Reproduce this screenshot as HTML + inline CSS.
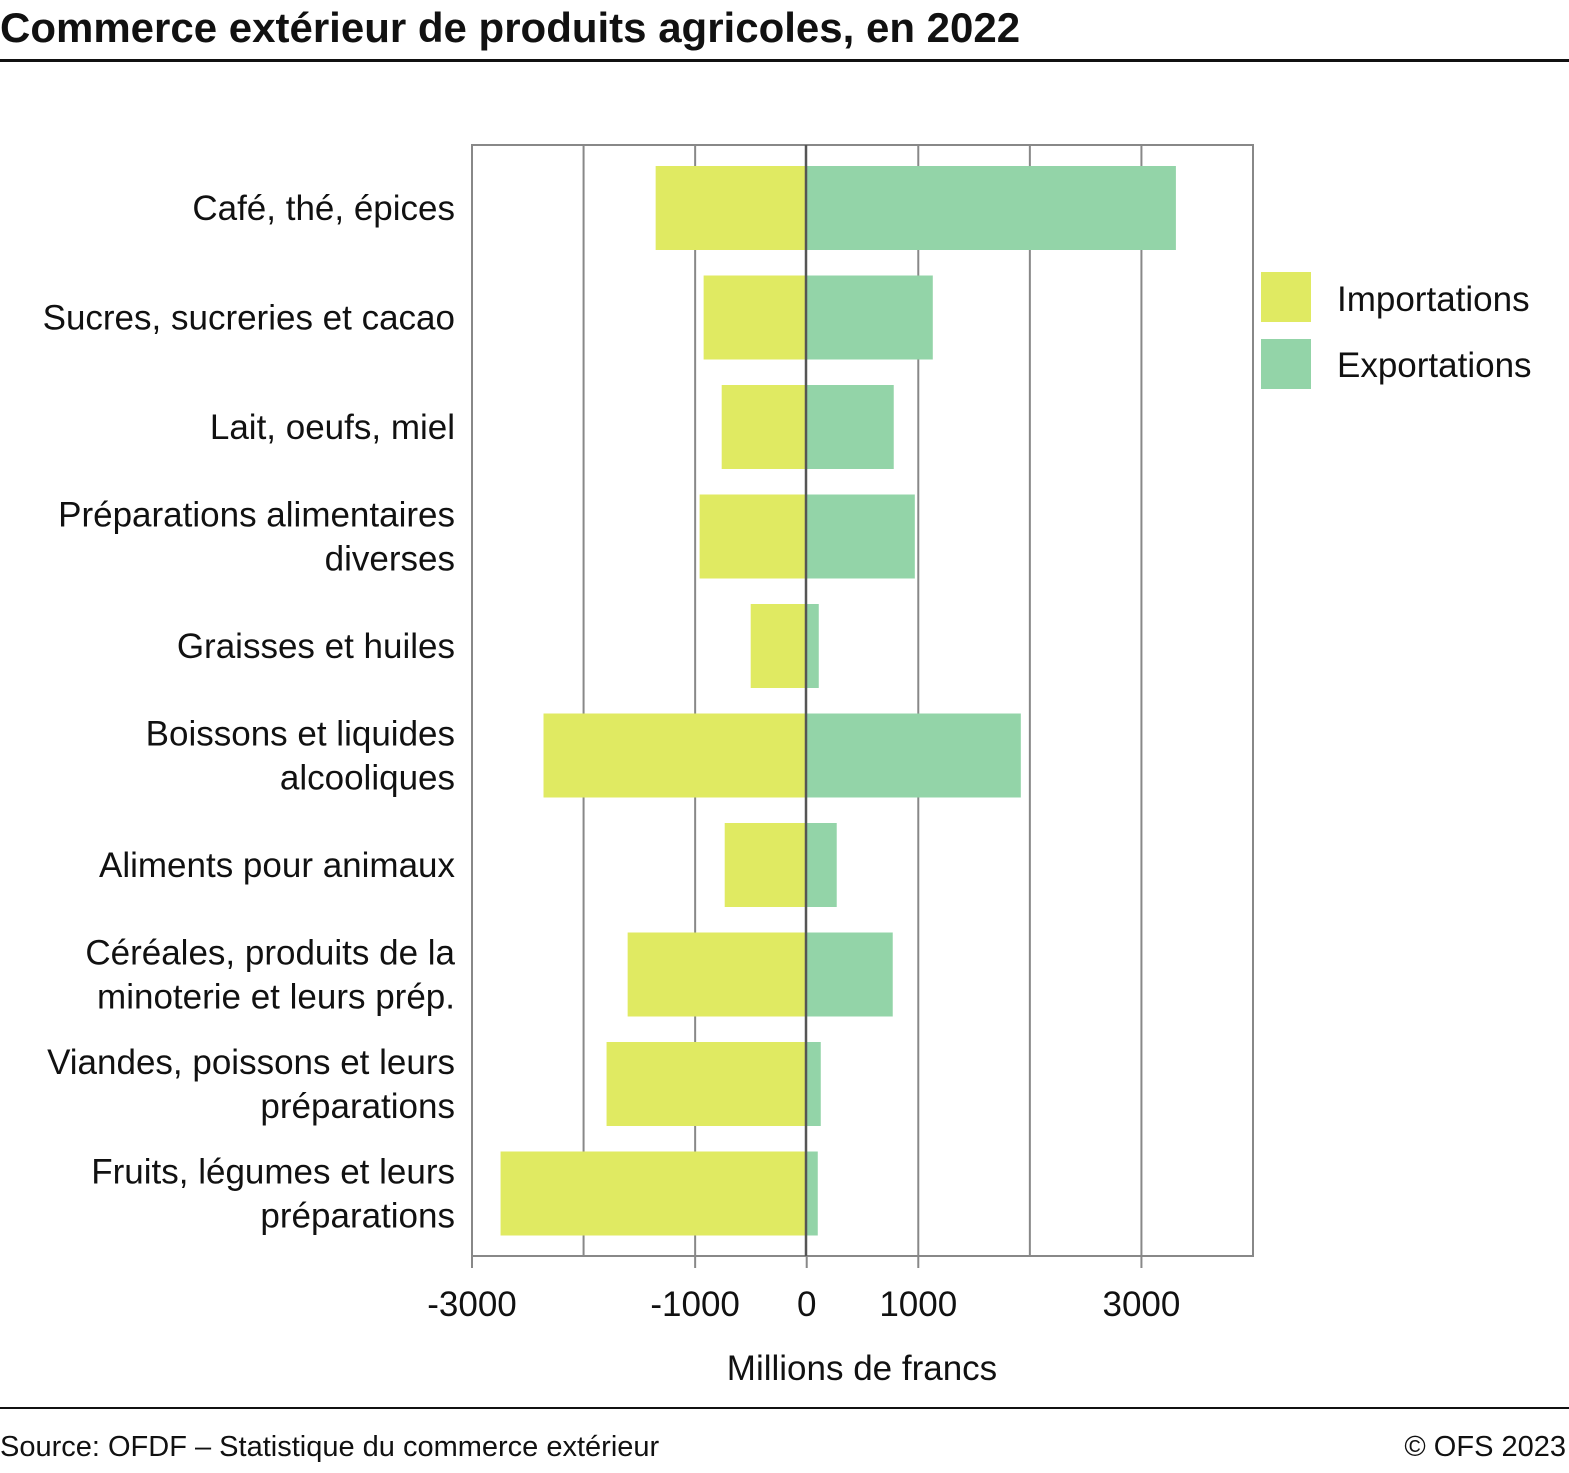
<!DOCTYPE html>
<html><head><meta charset="utf-8"><style>
body{margin:0;background:#fff;}
svg text{font-family:"Liberation Sans",sans-serif;fill:#111;}
</style></head><body>
<svg width="1569" height="1468" xmlns="http://www.w3.org/2000/svg">
<text x="0" y="42" font-size="42" font-weight="bold">Commerce extérieur de produits agricoles, en 2022</text>
<rect x="0" y="59" width="1569" height="3" fill="#111"/>
<g id="grid"></g>
<g id="bars"></g>
<g id="labels"></g>
<rect x="472" y="145" width="781" height="1111" fill="none" stroke="#888" stroke-width="2"/>
<line x1="806" y1="145" x2="806" y2="1256" stroke="#555" stroke-width="2.5"/>
<text x="862" y="1380" font-size="35" text-anchor="middle">Millions de francs</text>
<rect x="1261" y="272" width="50" height="50" fill="#e0ea62"/>
<text x="1337" y="311" font-size="35">Importations</text>
<rect x="1261" y="339" width="50" height="50" fill="#93d4a8"/>
<text x="1337" y="377" font-size="35">Exportations</text>
<rect x="0" y="1407" width="1569" height="2" fill="#111"/>
<text x="0" y="1456" font-size="29">Source: OFDF – Statistique du commerce extérieur</text>
<text x="1566" y="1456" font-size="29" text-anchor="end">© OFS 2023</text>
</svg>
<script>
const categories=[["Café, thé, épices"],["Sucres, sucreries et cacao"],["Lait, oeufs, miel"],["Préparations alimentaires","diverses"],["Graisses et huiles"],["Boissons et liquides","alcooliques"],["Aliments pour animaux"],["Céréales, produits de la","minoterie et leurs prép."],["Viandes, poissons et leurs","préparations"],["Fruits, légumes et leurs","préparations"]];
const importations=[-1354,-924,-762,-960,-502,-2359,-735,-1605,-1794,-2744];
const exportations=[3309,1130,780,969,108,1919,269,771,126,99];
const gridValues=[-2000,-1000,1000,2000,3000];
const tickValues=[-3000,-1000,0,1000,3000];
const NS="http://www.w3.org/2000/svg";
const x0=472,x1=1253,vmin=-3000,vmax=4000,topY=145,band=109.5;
const xs=v=>x0+(v-vmin)/(vmax-vmin)*(x1-x0);
function mk(tag,attrs,parent){const e=document.createElementNS(NS,tag);for(const k in attrs)e.setAttribute(k,attrs[k]);document.getElementById(parent).appendChild(e);return e;}
gridValues.forEach(v=>{
 const l=mk('line',{x1:xs(v),x2:xs(v),y1:topY,y2:1256,stroke:'#888','stroke-width':2},'grid');
 
 
});
tickValues.forEach(v=>{
 const t=mk('text',{x:xs(v),y:1316,'font-size':35,'text-anchor':'middle'},'labels');
 t.textContent=String(v);
 
 
 const tk=mk('line',{x1:xs(v),x2:xs(v),y1:1256,y2:1268,stroke:'#888','stroke-width':2},'grid');
 
 
});
categories.forEach((c,i)=>{
 const y=topY+i*band+21,h=84;
 const a=mk('rect',{x:xs(importations[i]),y:y,width:xs(0)-xs(importations[i]),height:h,fill:'#e0ea62'},'bars');
 
 
 const b=mk('rect',{x:xs(0),y:y,width:xs(exportations[i])-xs(0),height:h,fill:'#93d4a8'},'bars');
 
 
 const cy=y+h/2;
 c.forEach((line,j)=>{
  const ly=c.length===1?cy+12:cy-10+j*44;
  const t=mk('text',{x:455,y:ly,'font-size':35,'text-anchor':'end'},'labels');
  t.textContent=line;
  
  
 });
});
</script>
</body></html>
